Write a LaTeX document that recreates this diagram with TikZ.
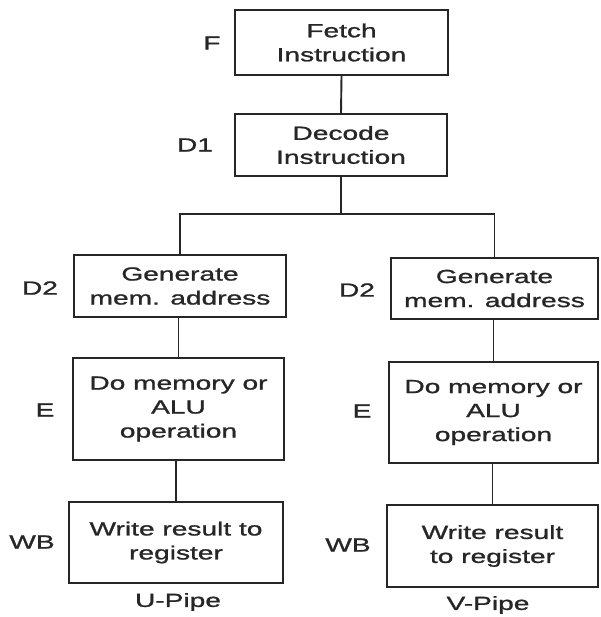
\documentclass[tikz,border=0pt]{standalone}
\usepackage{fontspec}
\setmainfont[FakeStretch=1.48,FakeBold=1.2]{Liberation Sans}
\newcommand{\bodyfont}{\fontsize{19}{24}\selectfont}
\begin{document}
\begin{tikzpicture}[x=1pt,y=-1pt,
  box/.style={draw=black!85, line width=1.9pt, align=center, inner sep=0pt, font=\bodyfont, text=black!85},
  lab/.style={font=\bodyfont, inner sep=0pt, text=black!85},
  conn/.style={draw=black!85, line width=1.9pt}]
\useasboundingbox (0,0) rectangle (600,617);
% boxes
\node[box, minimum width=213pt, minimum height=65pt] (fetch) at (341.5,42.5) {Fetch\\Instruction};
\node[box, minimum width=212pt, minimum height=62pt] (decode) at (341,145) {Decode\\Instruction};
\node[box, minimum width=212pt, minimum height=62pt] (genL) at (180,286) {Generate\\mem. address};
\node[box, minimum width=207pt, minimum height=61pt] (genR) at (494.5,288.5) {Generate\\mem. address};
\node[box, minimum width=211pt, minimum height=102pt] (doL) at (178.5,409) {Do memory or\\ALU\\operation};
\node[box, minimum width=209pt, minimum height=101pt] (doR) at (493.5,412.5) {Do memory or\\ALU\\operation};
\node[box, minimum width=214pt, minimum height=81pt] (wrL) at (176,542.5) {Write result to\\register};
\node[box, minimum width=211pt, minimum height=82pt] (wrR) at (492.5,546) {Write result\\to register};
% stage labels
\node[lab] (lF) at (212,43) {F};
\node[lab] (lD1) at (195,145) {D1};
\node[lab] (lD2L) at (40,288) {D2};
\node[lab] (lD2R) at (357,290) {D2};
\node[lab] (lEL) at (45,410) {E};
\node[lab] (lER) at (362,411) {E};
\node[lab] (lWBL) at (32,542) {WB};
\node[lab] (lWBR) at (348,545) {WB};
\node[lab] (uP) at (178,602) {U-Pipe};
\node[lab] (vP) at (488,605) {V-Pipe};
% connectors
\coordinate (split) at (341,214);
\draw[conn] (fetch.south) -- (decode.north);
\draw[conn] (decode.south) -- (split);
\draw[conn] (genL.north) |- (split) -| (genR.north);
\draw[conn] (doL.north) -- (doL.north |- genL.south);
\draw[conn] (doR.north) -- (doR.north |- genR.south);
\draw[conn] (wrL.north) -- (wrL.north |- doL.south);
\draw[conn] (wrR.north) -- (wrR.north |- doR.south);
\end{tikzpicture}
\end{document}
